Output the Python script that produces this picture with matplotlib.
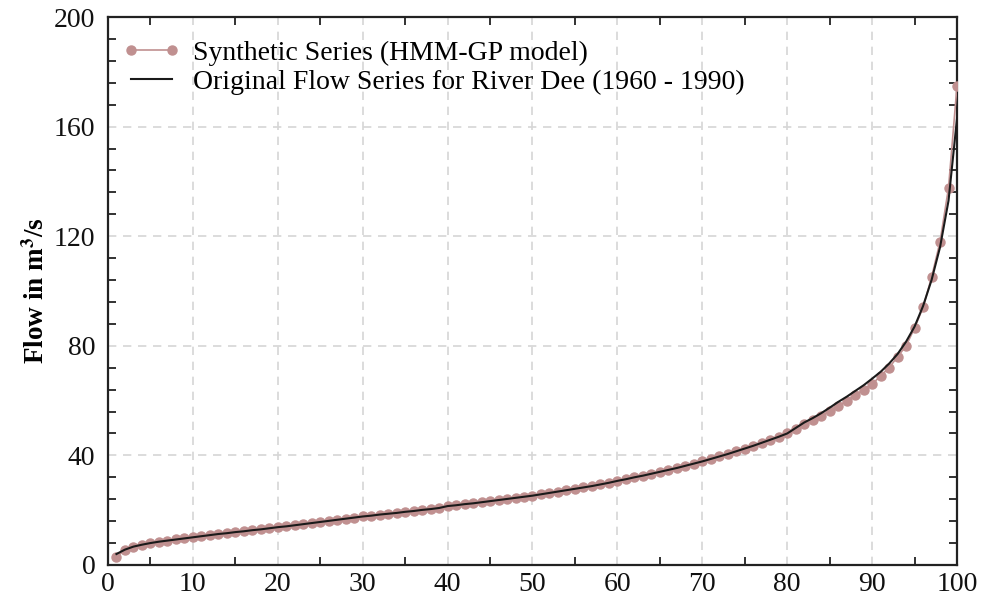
import numpy as np
import matplotlib
matplotlib.use("Agg")
import matplotlib.pyplot as plt
from matplotlib.ticker import MultipleLocator

# exceedance percentile (x) and flows (m3/s)
pct = list(range(1, 101))
synthetic = [3.0, 5.5, 6.6, 7.4, 8.0, 8.5, 8.9, 9.3, 9.7, 10.1,
             10.5, 10.9, 11.3, 11.6, 12.0, 12.3, 12.7, 13.0, 13.4, 13.8,
             14.1, 14.5, 14.9, 15.3, 15.7, 16.1, 16.5, 16.9, 17.3, 17.7,
             18.0, 18.4, 18.7, 19.0, 19.4, 19.7, 20.1, 20.4, 20.8, 21.5,
             21.8, 22.2, 22.5, 22.9, 23.3, 23.7, 24.1, 24.5, 24.9, 25.3,
             25.8, 26.3, 26.8, 27.3, 27.8, 28.3, 28.8, 29.4, 30.0, 30.7,
             31.3, 32.0, 32.6, 33.3, 34.0, 34.7, 35.4, 36.2, 37.0, 37.8,
             38.7, 39.6, 40.5, 41.5, 42.5, 43.5, 44.6, 45.7, 46.8, 48.0,
             49.7, 51.3, 52.9, 54.5, 56.2, 58.0, 59.9, 62.0, 64.0, 66.0,
             69.0, 72.0, 76.0, 80.0, 86.5, 94.0, 105.0, 118.0, 137.7, 175.0]
original = [4.0, 5.6, 6.7, 7.4, 8.0, 8.5, 8.9, 9.3, 9.7, 10.1,
            10.5, 10.9, 11.3, 11.6, 12.0, 12.3, 12.7, 13.0, 13.4, 13.8,
            14.1, 14.5, 14.9, 15.3, 15.7, 16.1, 16.5, 16.9, 17.3, 17.7,
            18.0, 18.4, 18.7, 19.0, 19.4, 19.7, 20.1, 20.4, 20.8, 21.5,
            21.8, 22.2, 22.5, 22.9, 23.3, 23.7, 24.1, 24.5, 24.9, 25.3,
            25.8, 26.3, 26.8, 27.3, 27.8, 28.3, 28.8, 29.4, 30.0, 30.7,
            31.3, 32.0, 32.6, 33.3, 34.0, 34.7, 35.4, 36.2, 37.0, 37.8,
            38.7, 39.6, 40.5, 41.5, 42.5, 43.5, 44.6, 45.7, 46.8, 48.0,
            50.0, 52.0, 53.6, 55.4, 57.4, 59.5, 61.4, 63.5, 65.6, 68.0,
            70.5, 73.5, 77.0, 81.5, 87.0, 94.5, 104.0, 116.0, 133.0, 163.0]

labels = ["Synthetic Series (HMM-GP model)",
          "Original Flow Series for River Dee (1960 - 1990)"]

plt.rcParams['font.family'] = ['Liberation Serif', 'DejaVu Serif']
plt.rcParams['mathtext.fontset'] = 'stix'

fig = plt.figure(figsize=(9.85, 5.99), dpi=100)
ax = fig.add_axes([0.1096, 0.0568, 0.862, 0.9148])

ax.plot(pct, synthetic, '-o', color='#c09090', lw=1.2, ms=6.5,
        label=labels[0], zorder=3)
ax.plot(pct, original, '-', color='#1a1a1a', lw=1.5, label=labels[1], zorder=4)

ax.set_xlim(0, 100)
ax.set_ylim(0, 200)
ax.xaxis.set_major_locator(MultipleLocator(10))
ax.xaxis.set_minor_locator(MultipleLocator(5))
ax.yaxis.set_major_locator(MultipleLocator(40))
ax.yaxis.set_minor_locator(MultipleLocator(8))
ax.tick_params(which='major', length=0, labelsize=20, colors='#111111')
ax.tick_params(axis='y', which='major', pad=9)
ax.tick_params(axis='x', which='major', pad=5)
ax.tick_params(which='minor', direction='in', length=6, width=1.3,
               top=True, right=True, color='#222222')
ax.grid(True, which='major', ls=(0, (5, 4)), color='#d6d6d6', lw=1.2)
for s in ax.spines.values():
    s.set_linewidth(1.6)
    s.set_color('#222222')

ax.set_ylabel(r'Flow in m$^{\mathbf{3}}$/s', fontsize=19.5, fontweight='bold',
              labelpad=3)

ax.legend(loc='upper left', bbox_to_anchor=(0.004, 0.977), borderaxespad=0,
          fontsize=20, frameon=False, handlelength=2.1, numpoints=2,
          labelspacing=0.12, handletextpad=0.45)

fig.savefig('out.png', dpi=100)
